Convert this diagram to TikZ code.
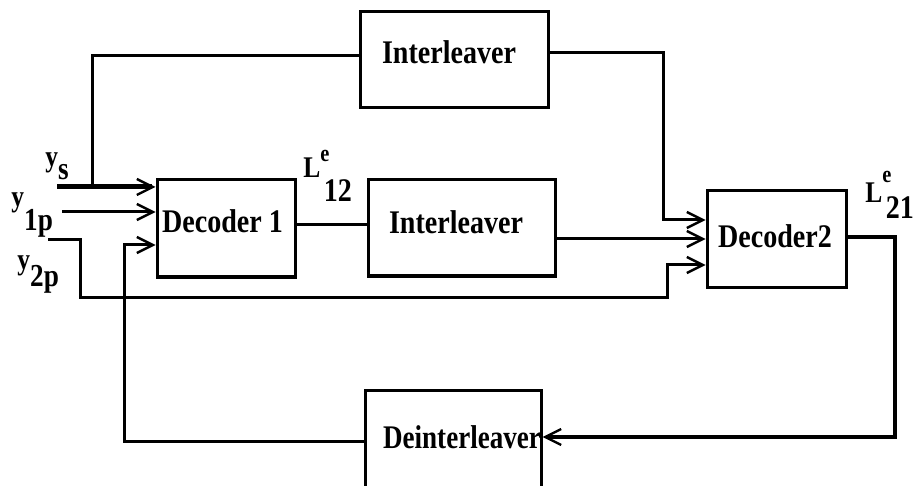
\documentclass[tikz,border=0pt]{standalone}
\usepackage{fontspec}
\setmainfont{Liberation Serif}
\usetikzlibrary{arrows.meta}
\newcommand{\cond}[1]{\scalebox{0.85}[1]{#1}}
\begin{document}
\begin{tikzpicture}[x=0.5pt,y=-0.5pt,
  box/.style={draw, line width=1.5pt, inner sep=0pt},
  lab/.style={inner sep=0pt, font=\bfseries\fontsize{16.5}{16.5}\selectfont},
  sym/.style={inner sep=0pt, anchor=base west, font=\bfseries},
  ln/.style={line width=1.5pt},
  lnb/.style={line width=2.5pt},
  arr/.style={-{Straight Barb[length=8pt,width=8pt,line width=1.2pt]}}]
\clip (0,0) rectangle (915,486);
\fill[white] (0,0) rectangle (915,486);
% boxes
\node[box, minimum width=94pt, minimum height=48pt] (i1) at (454,60) {};
\node[box, minimum width=69pt, minimum height=48.5pt] (dec1) at (226,228.5) {};
\node[box, minimum width=93.5pt, minimum height=48pt] (i2) at (461.5,228) {};
\node[box, minimum width=69.5pt, minimum height=48pt] (dec2) at (776.5,239) {};
\node[box, minimum width=88pt, minimum height=55pt] (deint) at (453,445) {};
% box texts
\node[lab] (i1t) at (449,52.5) {\cond{Interleaver}};
\node[lab] (d1t) at (222.5,221.5) {\cond{Decoder 1}};
\node[lab] (i2t) at (456,222) {\cond{Interleaver}};
\node[lab] (d2t) at (775,236.5) {\cond{Decoder2}};
\node[lab] (dit) at (462,437.5) {\scalebox{0.82}[1]{Deinterleaver}};
% input labels
\node[sym] (lys) at (45,167) {\cond{\fontsize{15}{15}\selectfont y\raisebox{-6.5pt}{\fontsize{16}{16}\selectfont s}}};
\node[sym] (ly1) at (11,207) {\cond{\fontsize{15}{15}\selectfont y\raisebox{-12pt}{\fontsize{16}{16}\selectfont 1p}}};
\node[sym] (ly2) at (17,270) {\cond{\fontsize{15}{15}\selectfont y\raisebox{-8.5pt}{\fontsize{16}{16}\selectfont 2p}}};
\node[sym] (l12) at (303,178) {\cond{\fontsize{15}{15}\selectfont L\rlap{\raisebox{8pt}{\fontsize{12}{12}\selectfont e}}\hspace{2pt}\raisebox{-12pt}{\fontsize{16.5}{16.5}\selectfont 12}}};
\node[sym] (l21) at (865,203) {\cond{\fontsize{15}{15}\selectfont L\rlap{\raisebox{10pt}{\fontsize{12}{12}\selectfont e}}\hspace{2pt}\raisebox{-8pt}{\fontsize{16.5}{16.5}\selectfont 21}}};
% coordinates
\coordinate (ysin) at (57,187);
\coordinate (ysj) at (92,187);
\coordinate (ystop) at (92,56);
\coordinate (i1r) at (663,53);
\coordinate (y1in) at (62,212);
\coordinate (y2in) at (48,240);
\coordinate (fb) at (895,237);
% connectors
\draw[lnb, arr] (ysin) -- (dec1.west |- ysin);
\draw[ln] (ysj) -- (ystop) -- (i1.west |- ystop);
\draw[ln, arr] (i1.east |- i1r) -- (i1r) |- (dec2.west |- 0,220);
\draw[ln, arr] (y1in) -- (dec1.west |- y1in);
\draw[ln, arr] (y2in) -- (80,240) |- (667,297) |- (dec2.west |- 0,265);
\draw[ln] (dec1.east |- 0,225) -- (i2.west |- 0,225);
\draw[ln, arr] (i2.east |- 0,239) -- (dec2.west |- 0,239);
\draw[line width=2pt, arr] (dec2.east |- fb) -- (fb) |- (deint.east |- 0,437);
\draw[ln, arr] (deint.west |- 0,441) -- (124,441) |- (dec1.west |- 0,245);
\end{tikzpicture}
\end{document}
